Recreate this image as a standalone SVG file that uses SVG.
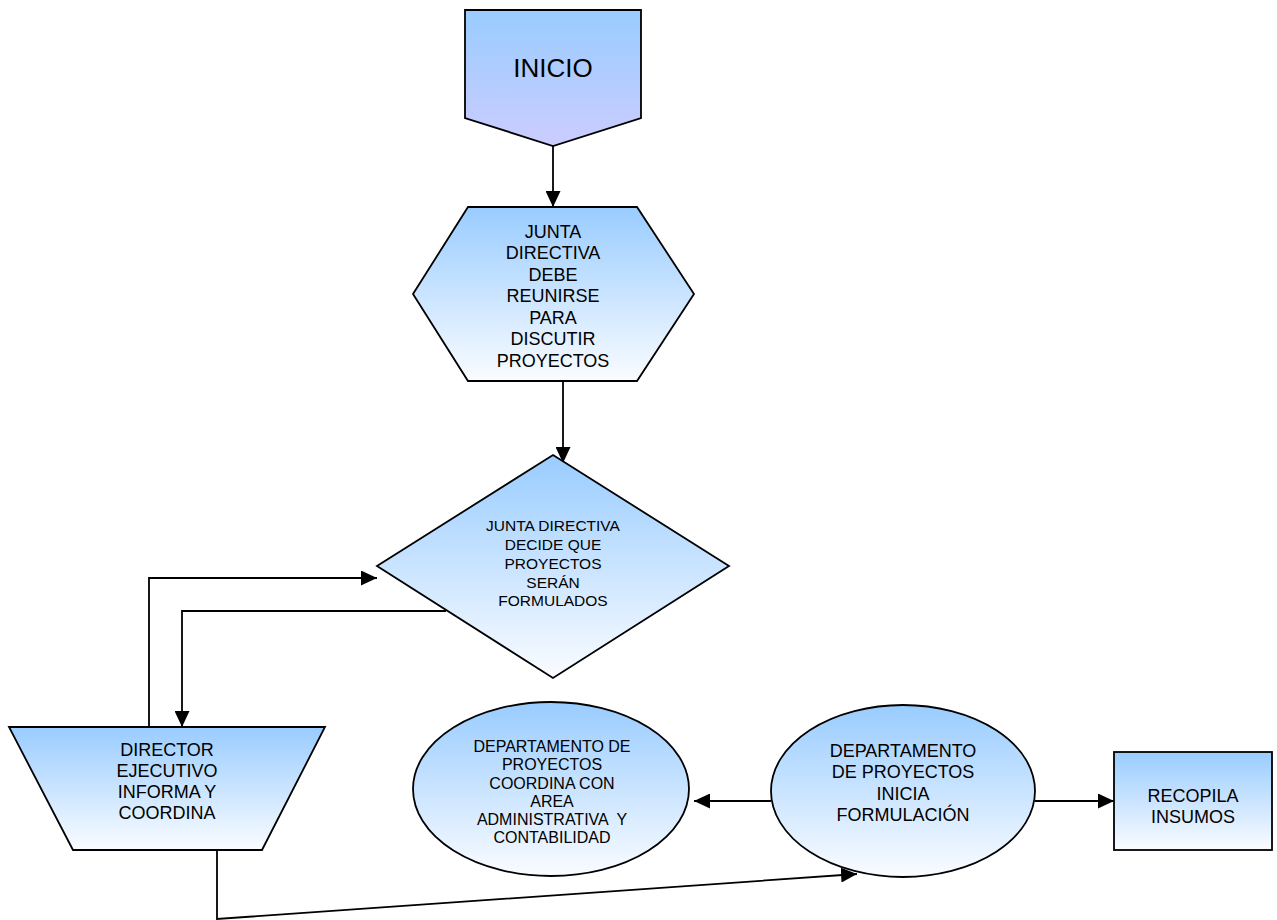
<svg xmlns="http://www.w3.org/2000/svg" width="1277" height="920" viewBox="0 0 1277 920">
<defs>
<linearGradient id="gBlue" x1="0" y1="0" x2="0" y2="1">
<stop offset="0" stop-color="#99CCFF"/>
<stop offset="1" stop-color="#FAFCFF"/>
</linearGradient>
<linearGradient id="gStart" x1="0" y1="0" x2="0" y2="1">
<stop offset="0" stop-color="#99CCFF"/>
<stop offset="1" stop-color="#CCCCFF"/>
</linearGradient>
<marker id="arr" markerUnits="userSpaceOnUse" markerWidth="17" markerHeight="15" refX="16" refY="7.5" orient="auto">
<path d="M0,0 L16,7.5 L0,15 z" fill="#000"/>
</marker>
<style>
.shape{stroke:#000;stroke-width:1.8;fill:url(#gBlue);}
.conn{stroke:#000;stroke-width:1.8;fill:none;}
text{font-family:"Liberation Sans",Arial,sans-serif;fill:#000;text-anchor:middle;}
.big{font-size:18px;}
.small{font-size:15.5px;}
.small2{font-size:16px;}
</style>
</defs>
<rect width="1277" height="920" fill="#fff"/>

<g id="connectors">
<line class="conn" x1="553" y1="146" x2="553" y2="207" marker-end="url(#arr)"/>
<line class="conn" x1="563" y1="381" x2="563" y2="463" marker-end="url(#arr)"/>
<polyline class="conn" points="149,727 149,578 377,578" marker-end="url(#arr)"/>
<polyline class="conn" points="446,611 182,611 182,727" marker-end="url(#arr)"/>
<polyline class="conn" points="217,850 217,919 857,874" marker-end="url(#arr)"/>
<line class="conn" x1="771" y1="801" x2="694" y2="801" marker-end="url(#arr)"/>
<line class="conn" x1="1035" y1="801" x2="1114" y2="801" marker-end="url(#arr)"/>
</g>

<g id="inicio">
<polygon points="465,10 641,10 641,118 553,146 465,118" stroke="#000" stroke-width="1.8" fill="url(#gStart)"/>
<text x="553" y="77" style="font-size:26px">INICIO</text>
</g>

<g id="junta-reunirse">
<polygon class="shape" points="468,207 637,207 694,294 637,381 468,381 413,294"/>
<text class="big"><tspan x="553" y="237.5">JUNTA</tspan><tspan x="553" y="259">DIRECTIVA</tspan><tspan x="553" y="280.5">DEBE</tspan><tspan x="553" y="302">REUNIRSE</tspan><tspan x="553" y="323.5">PARA</tspan><tspan x="553" y="345">DISCUTIR</tspan><tspan x="553" y="366.5">PROYECTOS</tspan></text>
</g>

<g id="junta-decide">
<polygon class="shape" points="553,455 729,566 553,678 377,566"/>
<text class="small"><tspan x="553" y="530.5">JUNTA DIRECTIVA</tspan><tspan x="553" y="549.5">DECIDE QUE</tspan><tspan x="553" y="568.5">PROYECTOS</tspan><tspan x="553" y="587.5">SERÁN</tspan><tspan x="553" y="605.5">FORMULADOS</tspan></text>
</g>

<g id="director">
<polygon class="shape" points="9,727 325,727 262,850 73,850"/>
<text class="big"><tspan x="167" y="755.5">DIRECTOR</tspan><tspan x="167" y="776.5">EJECUTIVO</tspan><tspan x="167" y="797.5">INFORMA Y</tspan><tspan x="167" y="818.5">COORDINA</tspan></text>
</g>

<g id="dep-coordina">
<ellipse class="shape" cx="551" cy="789" rx="138" ry="87"/>
<text class="small2"><tspan x="552" y="751.5">DEPARTAMENTO DE</tspan><tspan x="552" y="770">PROYECTOS</tspan><tspan x="552" y="788.5">COORDINA CON</tspan><tspan x="552" y="806.5">AREA</tspan><tspan x="552" y="824.5" xml:space="preserve">ADMINISTRATIVA  Y</tspan><tspan x="552" y="842.5">CONTABILIDAD</tspan></text>
</g>

<g id="dep-inicia">
<ellipse class="shape" cx="903" cy="791" rx="132" ry="86"/>
<text class="big"><tspan x="903" y="756.5">DEPARTAMENTO</tspan><tspan x="903" y="778">DE PROYECTOS</tspan><tspan x="903" y="799.5">INICIA</tspan><tspan x="903" y="821">FORMULACIÓN</tspan></text>
</g>

<g id="recopila">
<rect class="shape" x="1114" y="752" width="158" height="98"/>
<text class="big"><tspan x="1193" y="801.5">RECOPILA</tspan><tspan x="1193" y="822.5">INSUMOS</tspan></text>
</g>
</svg>
